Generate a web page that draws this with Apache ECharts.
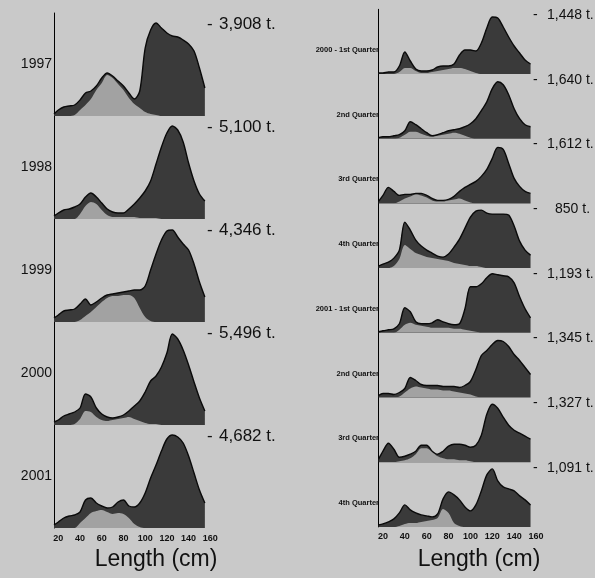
<!DOCTYPE html>
<html>
<head>
<meta charset="utf-8">
<script src="https://cdn.jsdelivr.net/npm/echarts@6/dist/echarts.min.js"></script>
<style>
  html, body { margin: 0; padding: 0; background: #c9c9c9; }
  #chart { width: 595px; height: 578px; }
</style>
</head>
<body>
<div id="chart"></div>
<script>
// Length classes (cm) shared by every distribution
const lengths = [16, 20, 25, 30, 35, 40, 45, 50, 55, 60, 65, 70, 75, 80, 85, 90, 95, 100, 105, 110, 115, 120, 125, 130, 135, 140, 145, 150, 155];
const xTicks = [20, 40, 60, 80, 100, 120, 140, 160];

// Annual catch-at-length (relative frequency): total catch and the lighter component
const yearNames = ['1997', '1998', '1999', '2000', '2001'];
const yearTonnage = ['3,908 t.', '5,100 t.', '4,346 t.', '5,496 t.', '4,682 t.'];
const total1997 = [2, 6, 9, 10, 11, 16, 23, 25, 30, 38, 43, 40, 35, 30, 23, 17, 25, 68, 86, 93, 88, 83, 80, 79, 76, 72, 65, 48, 28];
const part1997  = [0, 0, 0, 0, 1, 6, 11, 17, 26, 33, 41, 38, 32, 26, 18, 12, 8, 4, 2, 1, 0, 0, 0, 0, 0, 0, 0, 0, 0];
const total1998 = [3, 6, 9, 10, 12, 15, 22, 26, 22, 16, 10, 7, 6, 6, 10, 15, 21, 28, 38, 55, 72, 86, 93, 89, 77, 56, 38, 25, 18];
const part1998  = [0, 0, 0, 0, 0, 5, 13, 17, 15, 9, 4, 2, 2, 2, 2, 2, 1, 1, 1, 1, 0, 0, 0, 0, 0, 0, 0, 0, 0];
const total1999 = [4, 7, 11, 12, 13, 18, 23, 17, 20, 24, 27, 28, 29, 30, 31, 32, 32, 36, 52, 68, 82, 91, 92, 85, 78, 72, 58, 40, 25];
const part1999  = [0, 0, 0, 0, 0, 2, 6, 10, 15, 20, 24, 26, 26, 27, 27, 24, 14, 5, 1, 0, 0, 0, 0, 0, 0, 0, 0, 0, 0];
const total2000 = [3, 5, 9, 11, 13, 17, 31, 28, 17, 11, 8, 7, 8, 10, 14, 19, 24, 33, 44, 49, 58, 72, 91, 86, 75, 60, 43, 27, 14];
const part2000  = [0, 0, 0, 0, 1, 6, 14, 13, 8, 5, 4, 5, 6, 7, 8, 6, 4, 2, 1, 1, 0, 0, 0, 0, 0, 0, 0, 0, 0];
const total2001 = [3, 6, 10, 12, 13, 16, 28, 30, 25, 22, 20, 21, 26, 28, 22, 21, 25, 35, 50, 63, 77, 89, 93, 91, 85, 72, 55, 38, 25];
const part2001  = [0, 0, 0, 0, 0, 5, 10, 15, 17, 18, 16, 14, 15, 14, 10, 4, 1, 0, 0, 0, 0, 0, 0, 0, 0, 0, 0, 0, 0];

// Quarterly catch-at-length, 2000-2001
const quarterNames = ['2000 - 1st Quarter', '2nd Quarter', '3rd Quarter', '4th Quarter',
                      '2001 - 1st Quarter', '2nd Quarter', '3rd Quarter', '4th Quarter'];
const quarterTonnage = ['1,448 t.', '1,640 t.', '1,612 t.', '850 t.', '1,193 t.', '1,345 t.', '1,327 t.', '1,091 t.'];
const totalQ1_2000 = [1, 1, 2, 2, 8, 22, 13, 5, 3, 3, 4, 7, 8, 8, 10, 19, 24, 24, 23, 31, 46, 57, 56, 47, 37, 28, 21, 14, 10];
const partQ1_2000  = [0, 0, 0, 0, 2, 6, 6, 3, 1, 1, 2, 3, 4, 5, 6, 6, 5, 3, 1, 0, 0, 0, 0, 0, 0, 0, 0, 0, 0];
const totalQ2_2000 = [1, 2, 2, 3, 4, 8, 17, 14, 10, 6, 3, 4, 6, 8, 9, 10, 12, 15, 20, 28, 37, 50, 57, 54, 44, 30, 20, 14, 12];
const partQ2_2000  = [0, 0, 0, 0, 1, 4, 7, 7, 5, 3, 2, 3, 4, 5, 6, 5, 3, 1, 0, 0, 0, 0, 0, 0, 0, 0, 0, 0, 0];
const totalQ3_2000 = [2, 8, 16, 12, 8, 9, 9, 10, 10, 8, 5, 3, 3, 4, 7, 12, 16, 19, 22, 27, 34, 45, 56, 54, 40, 25, 17, 12, 10];
const partQ3_2000  = [0, 0, 0, 0, 2, 5, 7, 9, 8, 6, 3, 2, 2, 3, 4, 5, 3, 1, 0, 0, 0, 0, 0, 0, 0, 0, 0, 0, 0];
const totalQ4_2000 = [2, 4, 6, 10, 18, 46, 38, 28, 22, 18, 15, 12, 11, 14, 21, 29, 40, 51, 57, 58, 55, 54, 54, 54, 53, 42, 27, 18, 13];
const partQ4_2000  = [0, 0, 0, 2, 9, 23, 19, 15, 13, 11, 10, 9, 8, 7, 5, 4, 3, 2, 2, 1, 0, 0, 0, 0, 0, 0, 0, 0, 0];
const totalQ1_2001 = [1, 2, 3, 4, 9, 25, 21, 11, 9, 9, 10, 13, 11, 9, 8, 9, 24, 46, 46, 49, 55, 59, 58, 57, 56, 50, 36, 24, 15];
const partQ1_2001  = [0, 0, 0, 0, 3, 8, 10, 8, 7, 6, 5, 5, 5, 5, 4, 4, 3, 2, 1, 0, 0, 0, 0, 0, 0, 0, 0, 0, 0];
const totalQ2_2001 = [2, 4, 4, 3, 5, 9, 20, 17, 13, 12, 12, 12, 11, 11, 11, 10, 12, 16, 28, 42, 47, 53, 57, 56, 51, 43, 37, 30, 23];
const partQ2_2001  = [0, 0, 0, 0, 1, 5, 9, 11, 10, 9, 8, 8, 7, 7, 6, 5, 4, 3, 1, 0, 0, 0, 0, 0, 0, 0, 0, 0, 0];
const totalQ3_2001 = [3, 11, 19, 13, 5, 6, 8, 11, 17, 17, 11, 8, 11, 16, 18, 18, 17, 15, 17, 27, 48, 58, 54, 45, 37, 32, 29, 26, 23];
const partQ3_2001  = [0, 0, 0, 0, 1, 2, 4, 8, 14, 14, 10, 6, 4, 3, 3, 2, 2, 1, 0, 0, 0, 0, 0, 0, 0, 0, 0, 0, 0];
const totalQ4_2001 = [2, 3, 5, 8, 14, 22, 17, 14, 12, 11, 10, 13, 28, 35, 32, 27, 20, 16, 22, 36, 52, 58, 46, 40, 38, 36, 31, 27, 22];
const partQ4_2001  = [0, 0, 0, 0, 1, 3, 4, 4, 5, 6, 7, 9, 18, 14, 4, 1, 0, 0, 0, 0, 0, 0, 0, 0, 0, 0, 0, 0, 0];

const yearRows = [
  [total1997, part1997], [total1998, part1998], [total1999, part1999],
  [total2000, part2000], [total2001, part2001]
];
const quarterRows = [
  [totalQ1_2000, partQ1_2000], [totalQ2_2000, partQ2_2000], [totalQ3_2000, partQ3_2000], [totalQ4_2000, partQ4_2000],
  [totalQ1_2001, partQ1_2001], [totalQ2_2001, partQ2_2001], [totalQ3_2001, partQ3_2001], [totalQ4_2001, partQ4_2001]
];

// Panel geometry (pixels)
const X_MIN = 16, X_MAX = 160;
const panels = [
  { left: 54, width: 156.3, firstBase: 116, rowH: 103, rows: yearRows, names: yearNames, tons: yearTonnage,
    nameFont: '14px "Liberation Sans", Arial, sans-serif', nameX: 52, nameDy: -52,
    tonFont: '17px "Liberation Sans", Arial, sans-serif', dashX: 207, tonX: 219, tonDy: -92,
    labelMargin: 6, titleX: 156 },
  { left: 378.6, width: 157.4, firstBase: 74, rowH: 64.7, rows: quarterRows, names: quarterNames, tons: quarterTonnage,
    nameFont: 'bold 7.5px "Liberation Sans", Arial, sans-serif', nameX: 379, nameDy: -24,
    tonFont: '14px "Liberation Sans", Arial, sans-serif', dashX: 533, tonX: 547, tonDy: -59,
    labelMargin: 5, titleX: 479 }
];

const grids = [], xAxes = [], yAxes = [], series = [], graphics = [];
const DARK = '#3a3a3a', LIGHT = '#a2a2a2', INK = '#111111';

panels.forEach(function (p) {
  p.rows.forEach(function (pair, r) {
    const idx = grids.length;
    const base = p.firstBase + r * p.rowH;
    const isLast = r === p.rows.length - 1;
    grids.push({ left: p.left, top: base - p.rowH, width: p.width, height: p.rowH });
    xAxes.push({
      type: 'value', gridIndex: idx, min: X_MIN, max: X_MAX,
      axisLine: { show: false }, axisTick: { show: false }, splitLine: { show: false },
      axisLabel: isLast ? {
        show: true, customValues: xTicks, margin: p.labelMargin,
        fontSize: 9, fontWeight: 'bold', color: INK, fontFamily: '"Liberation Sans", Arial, sans-serif'
      } : { show: false }
    });
    yAxes.push({
      type: 'value', gridIndex: idx, min: 0, max: p.rowH,
      axisLine: { show: true, onZero: false, lineStyle: { color: '#000', width: 1 } },
      axisTick: { show: false }, axisLabel: { show: false }, splitLine: { show: false }
    });
    const toPts = vals => lengths.map((L, i) => [L, vals[i]]);
    series.push({
      type: 'line', xAxisIndex: idx, yAxisIndex: idx, data: toPts(pair[0]),
      smooth: 0.3, symbol: 'none', z: 2,
      itemStyle: { color: DARK },
      lineStyle: { color: '#0a0a0a', width: 1.4 },
      areaStyle: { color: DARK, opacity: 1 }
    });
    series.push({
      type: 'line', xAxisIndex: idx, yAxisIndex: idx, data: toPts(pair[1]),
      smooth: 0.3, symbol: 'none', z: 3,
      itemStyle: { color: LIGHT },
      lineStyle: { width: 0 },
      areaStyle: { color: LIGHT, opacity: 1 }
    });
    // Row name on the left of the axis
    graphics.push({
      type: 'text', z: 10,
      style: { text: p.names[r], x: p.nameX, y: base + p.nameDy, font: p.nameFont, fill: INK,
               align: 'right', textAlign: 'right', verticalAlign: 'middle', textVerticalAlign: 'middle' }
    });
    // Tonnage at the top right of the row
    graphics.push({
      type: 'text', z: 10,
      style: { text: '-', x: p.dashX, y: base + p.tonDy, font: p.tonFont, fill: INK,
               align: 'left', textAlign: 'left', verticalAlign: 'middle', textVerticalAlign: 'middle' }
    });
    graphics.push({
      type: 'text', z: 10,
      style: { text: p.tons[r], x: p.tonX + (p.tons[r].length < 7 ? 8 : 0), y: base + p.tonDy, font: p.tonFont, fill: INK,
               align: 'left', textAlign: 'left', verticalAlign: 'middle', textVerticalAlign: 'middle' }
    });
  });
  // Axis title below the panel
  graphics.push({
    type: 'text', z: 10,
    style: { text: 'Length (cm)', x: p.titleX, y: 560, font: '23px "Liberation Sans", Arial, sans-serif', fill: INK,
             align: 'center', textAlign: 'center', verticalAlign: 'middle', textVerticalAlign: 'middle' }
  });
});

const chart = echarts.init(document.getElementById('chart'), null, { renderer: 'canvas' });
chart.setOption({
  backgroundColor: '#c9c9c9',
  animation: false,
  grid: grids,
  xAxis: xAxes,
  yAxis: yAxes,
  series: series,
  graphic: graphics
});
</script>
</body>
</html>
